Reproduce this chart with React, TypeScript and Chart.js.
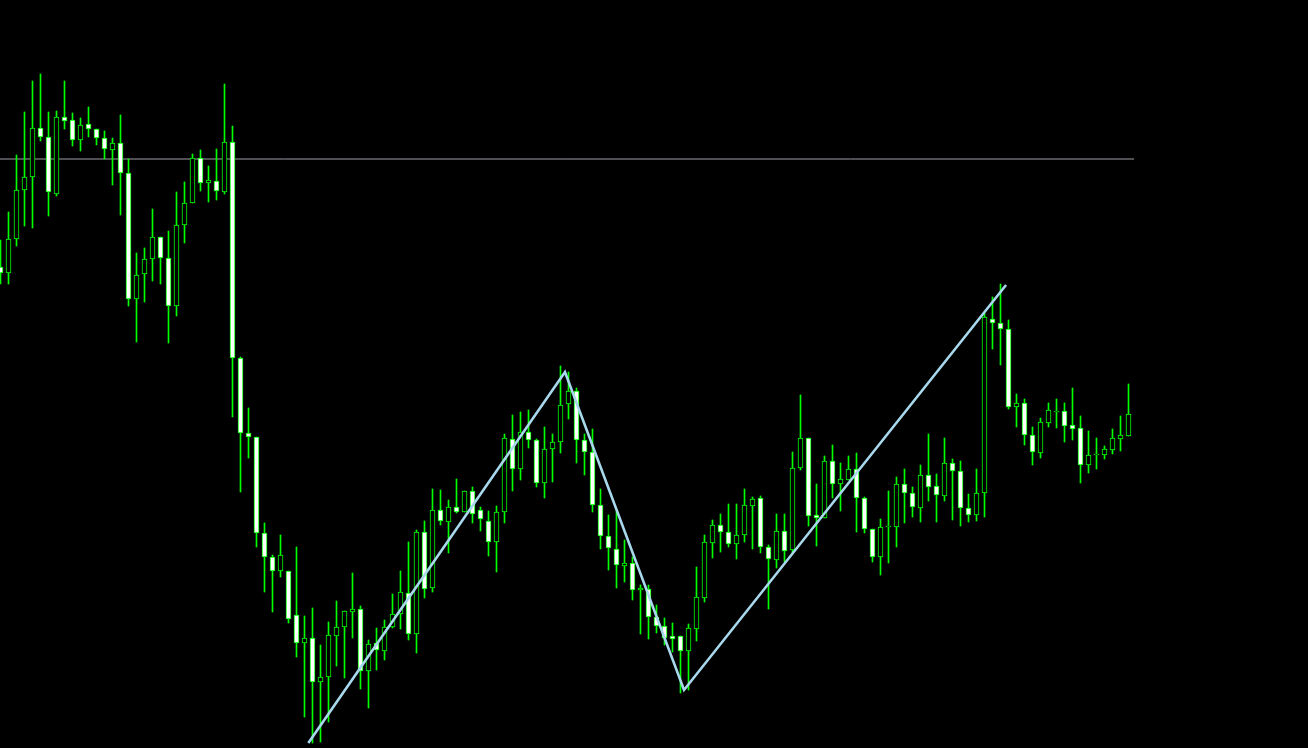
import React, { useEffect, useRef } from "react";
import { Chart, registerables } from "chart.js";

Chart.register(...registerables);

const openPrices = [
  1.0733, 1.0727, 1.0761, 1.0810, 1.0823, 1.0872, 1.0863, 1.0806, 1.0883, 1.0880,
  1.0860, 1.0876, 1.0871, 1.0862, 1.0850, 1.0857, 1.0827, 1.0701, 1.0726, 1.0741,
  1.0763, 1.0742, 1.0694, 1.0775, 1.0797, 1.0842, 1.0817, 1.0819, 1.0808, 1.0858,
  1.0642, 1.0567, 1.0563, 1.0467, 1.0443, 1.0429, 1.0429, 1.0385, 1.0357, 1.0362,
  1.0318, 1.0323, 1.0364, 1.0373, 1.0388, 1.0391, 1.0329, 1.0357, 1.0349, 1.0373,
  1.0386, 1.0407, 1.0366, 1.0468, 1.0412, 1.0490, 1.0478, 1.0493, 1.0488, 1.0509,
  1.0490, 1.0479, 1.0458, 1.0488, 1.0561, 1.0531, 1.0568, 1.0560, 1.0517, 1.0551,
  1.0558, 1.0596, 1.0609, 1.0560, 1.0548, 1.0495, 1.0464, 1.0451, 1.0434, 1.0437,
  1.0410, 1.0411, 1.0383, 1.0374, 1.0364, 1.0364, 1.0349, 1.0371, 1.0402, 1.0457,
  1.0475, 1.0468, 1.0456, 1.0465, 1.0494, 1.0502, 1.0453, 1.0440, 1.0469, 1.0450,
  1.0532, 1.0562, 1.0485, 1.0482, 1.0539, 1.0516, 1.0520, 1.0531, 1.0502, 1.0471,
  1.0443, 1.0473, 1.0473, 1.0516, 1.0507, 1.0492, 1.0525, 1.0514, 1.0504, 1.0537,
  1.0529, 1.0492, 1.0485, 1.0507, 1.0681, 1.0677, 1.0671, 1.0593, 1.0597, 1.0565,
  1.0547, 1.0577, 1.0588, 1.0589, 1.0575, 1.0572, 1.0535, 1.0545, 1.0545, 1.0550,
  1.0561, 1.0564,
];

const highPrices = [
  1.0760, 1.0788, 1.0845, 1.0888, 1.0919, 1.0926, 1.0888, 1.0889, 1.0919, 1.0887,
  1.0882, 1.0893, 1.0871, 1.0869, 1.0862, 1.0885, 1.0841, 1.0747, 1.0752, 1.0791,
  1.0763, 1.0769, 1.0808, 1.0818, 1.0846, 1.0850, 1.0834, 1.0851, 1.0916, 1.0874,
  1.0643, 1.0592, 1.0563, 1.0477, 1.0445, 1.0465, 1.0429, 1.0453, 1.0384, 1.0392,
  1.0355, 1.0378, 1.0399, 1.0389, 1.0427, 1.0394, 1.0360, 1.0372, 1.0380, 1.0406,
  1.0429, 1.0458, 1.0470, 1.0479, 1.0511, 1.0510, 1.0500, 1.0521, 1.0509, 1.0513,
  1.0493, 1.0489, 1.0494, 1.0566, 1.0585, 1.0588, 1.0590, 1.0561, 1.0573, 1.0566,
  1.0634, 1.0628, 1.0612, 1.0566, 1.0571, 1.0511, 1.0485, 1.0489, 1.0460, 1.0443,
  1.0415, 1.0415, 1.0395, 1.0382, 1.0377, 1.0364, 1.0376, 1.0433, 1.0465, 1.0480,
  1.0486, 1.0496, 1.0496, 1.0511, 1.0503, 1.0504, 1.0455, 1.0486, 1.0486, 1.0548,
  1.0605, 1.0562, 1.0516, 1.0544, 1.0555, 1.0537, 1.0544, 1.0547, 1.0503, 1.0471,
  1.0481, 1.0509, 1.0523, 1.0531, 1.0513, 1.0535, 1.0566, 1.0526, 1.0562, 1.0541,
  1.0539, 1.0506, 1.0531, 1.0687, 1.0703, 1.0716, 1.0680, 1.0606, 1.0601, 1.0573,
  1.0582, 1.0597, 1.0601, 1.0597, 1.0612, 1.0584, 1.0569, 1.0562, 1.0554, 1.0571,
  1.0584, 1.0616,
];

const lowPrices = [
  1.0716, 1.0716, 1.0754, 1.0774, 1.0772, 1.0859, 1.0784, 1.0804, 1.0871, 1.0854,
  1.0849, 1.0863, 1.0855, 1.0841, 1.0815, 1.0785, 1.0694, 1.0658, 1.0698, 1.0719,
  1.0716, 1.0657, 1.0684, 1.0757, 1.0797, 1.0809, 1.0798, 1.0800, 1.0806, 1.0583,
  1.0508, 1.0542, 1.0453, 1.0408, 1.0388, 1.0423, 1.0377, 1.0343, 1.0283, 1.0257,
  1.0258, 1.0278, 1.0334, 1.0322, 1.0362, 1.0311, 1.0292, 1.0330, 1.0340, 1.0372,
  1.0371, 1.0360, 1.0347, 1.0402, 1.0408, 1.0475, 1.0447, 1.0487, 1.0488, 1.0477,
  1.0469, 1.0444, 1.0428, 1.0477, 1.0509, 1.0520, 1.0552, 1.0513, 1.0502, 1.0518,
  1.0547, 1.0581, 1.0537, 1.0525, 1.0488, 1.0451, 1.0430, 1.0412, 1.0418, 1.0400,
  1.0366, 1.0361, 1.0367, 1.0355, 1.0348, 1.0307, 1.0310, 1.0359, 1.0398, 1.0442,
  1.0448, 1.0453, 1.0441, 1.0458, 1.0451, 1.0447, 1.0391, 1.0432, 1.0438, 1.0447,
  1.0530, 1.0474, 1.0454, 1.0482, 1.0502, 1.0489, 1.0520, 1.0468, 1.0467, 1.0438,
  1.0425, 1.0437, 1.0453, 1.0477, 1.0483, 1.0478, 1.0499, 1.0478, 1.0499, 1.0480,
  1.0474, 1.0478, 1.0479, 1.0483, 1.0651, 1.0635, 1.0591, 1.0573, 1.0555, 1.0535,
  1.0542, 1.0573, 1.0572, 1.0558, 1.0560, 1.0517, 1.0527, 1.0531, 1.0541, 1.0546,
  1.0549, 1.0564,
];

const closePrices = [
  1.0727, 1.0761, 1.0810, 1.0823, 1.0872, 1.0863, 1.0808, 1.0883, 1.0879, 1.0860,
  1.0875, 1.0871, 1.0862, 1.0851, 1.0857, 1.0827, 1.0701, 1.0725, 1.0741, 1.0763,
  1.0742, 1.0694, 1.0775, 1.0797, 1.0842, 1.0817, 1.0820, 1.0809, 1.0858, 1.0642,
  1.0567, 1.0563, 1.0467, 1.0443, 1.0429, 1.0445, 1.0381, 1.0357, 1.0362, 1.0318,
  1.0323, 1.0365, 1.0373, 1.0389, 1.0391, 1.0329, 1.0356, 1.0350, 1.0373, 1.0386,
  1.0408, 1.0366, 1.0468, 1.0411, 1.0490, 1.0479, 1.0493, 1.0488, 1.0509, 1.0486,
  1.0481, 1.0458, 1.0488, 1.0562, 1.0531, 1.0568, 1.0560, 1.0517, 1.0551, 1.0558,
  1.0595, 1.0609, 1.0560, 1.0548, 1.0495, 1.0464, 1.0452, 1.0435, 1.0437, 1.0410,
  1.0412, 1.0383, 1.0374, 1.0362, 1.0361, 1.0349, 1.0372, 1.0403, 1.0458, 1.0475,
  1.0468, 1.0456, 1.0465, 1.0495, 1.0501, 1.0453, 1.0441, 1.0469, 1.0449, 1.0532,
  1.0562, 1.0484, 1.0482, 1.0539, 1.0516, 1.0521, 1.0531, 1.0502, 1.0471, 1.0443,
  1.0473, 1.0474, 1.0516, 1.0507, 1.0493, 1.0525, 1.0513, 1.0505, 1.0537, 1.0529,
  1.0492, 1.0485, 1.0507, 1.0683, 1.0677, 1.0671, 1.0593, 1.0597, 1.0565, 1.0548,
  1.0578, 1.0590, 1.0589, 1.0574, 1.0571, 1.0535, 1.0545, 1.0546, 1.0551, 1.0562,
  1.0565, 1.0586,
];

// ZigZag pivots (bar position, price)
const zigzagBars = [38.48, 70.56, 85.44, 125.69];
const zigzagPrices = [1.0257, 1.0628, 1.0310, 1.0715];

// Horizontal level line
const levelPrice = 1.0841;
const levelEndBar = 141.7;

const priceMin = 1.0252;
const priceMax = 1.1;
const barMin = -0.0625;
const barMax = 163.4375;

const GREEN = "#00ff00";

export default function App() {
  const canvasRef = useRef<HTMLCanvasElement | null>(null);

  useEffect(() => {
    document.body.style.margin = "0";
    document.body.style.background = "#000";
    const canvas = canvasRef.current;
    if (!canvas) return;

    const wickData = highPrices.map((h, i) => ({ x: i, y: [lowPrices[i], h] }));
    const bodyData = openPrices.map((o, i) => ({
      x: i,
      y: [Math.min(o, closePrices[i]), Math.max(o, closePrices[i])],
    }));
    const bodyFill = openPrices.map((o, i) => (closePrices[i] >= o ? "#000000" : "#ffffff"));

    const chart = new Chart(canvas, {
      type: "bar",
      data: {
        datasets: [
          {
            type: "line",
            label: "ZigZag",
            data: zigzagBars.map((b, i) => ({ x: b, y: zigzagPrices[i] })),
            borderColor: "#a8d8ec",
            borderWidth: 2.6,
            pointRadius: 0,
            tension: 0,
            order: 0,
          } as any,
          {
            type: "bar",
            label: "Body",
            data: bodyData as any,
            backgroundColor: bodyFill,
            borderColor: GREEN,
            borderWidth: 1,
            borderSkipped: false,
            barThickness: 5,
            grouped: false,
            order: 1,
          } as any,
          {
            type: "bar",
            label: "Wick",
            data: wickData as any,
            backgroundColor: GREEN,
            borderWidth: 0,
            barThickness: 1,
            grouped: false,
            order: 2,
          } as any,
          {
            type: "line",
            label: "Level",
            data: [
              { x: barMin, y: levelPrice },
              { x: levelEndBar, y: levelPrice },
            ],
            borderColor: "#a0a0a8",
            borderWidth: 1,
            pointRadius: 0,
            order: 3,
          } as any,
        ],
      },
      options: {
        responsive: false,
        animation: false,
        events: [],
        layout: { padding: 0 },
        plugins: { legend: { display: false }, tooltip: { enabled: false } },
        scales: {
          x: { type: "linear", display: false, min: barMin, max: barMax, offset: false },
          y: { type: "linear", display: false, min: priceMin, max: priceMax },
        },
      },
    });
    return () => chart.destroy();
  }, []);

  return (
    <div style={{ position: "fixed", left: 0, top: 0, width: 1308, height: 748, background: "#000" }}>
      <canvas ref={canvasRef} width={1308} height={748} style={{ display: "block" }} />
    </div>
  );
}
